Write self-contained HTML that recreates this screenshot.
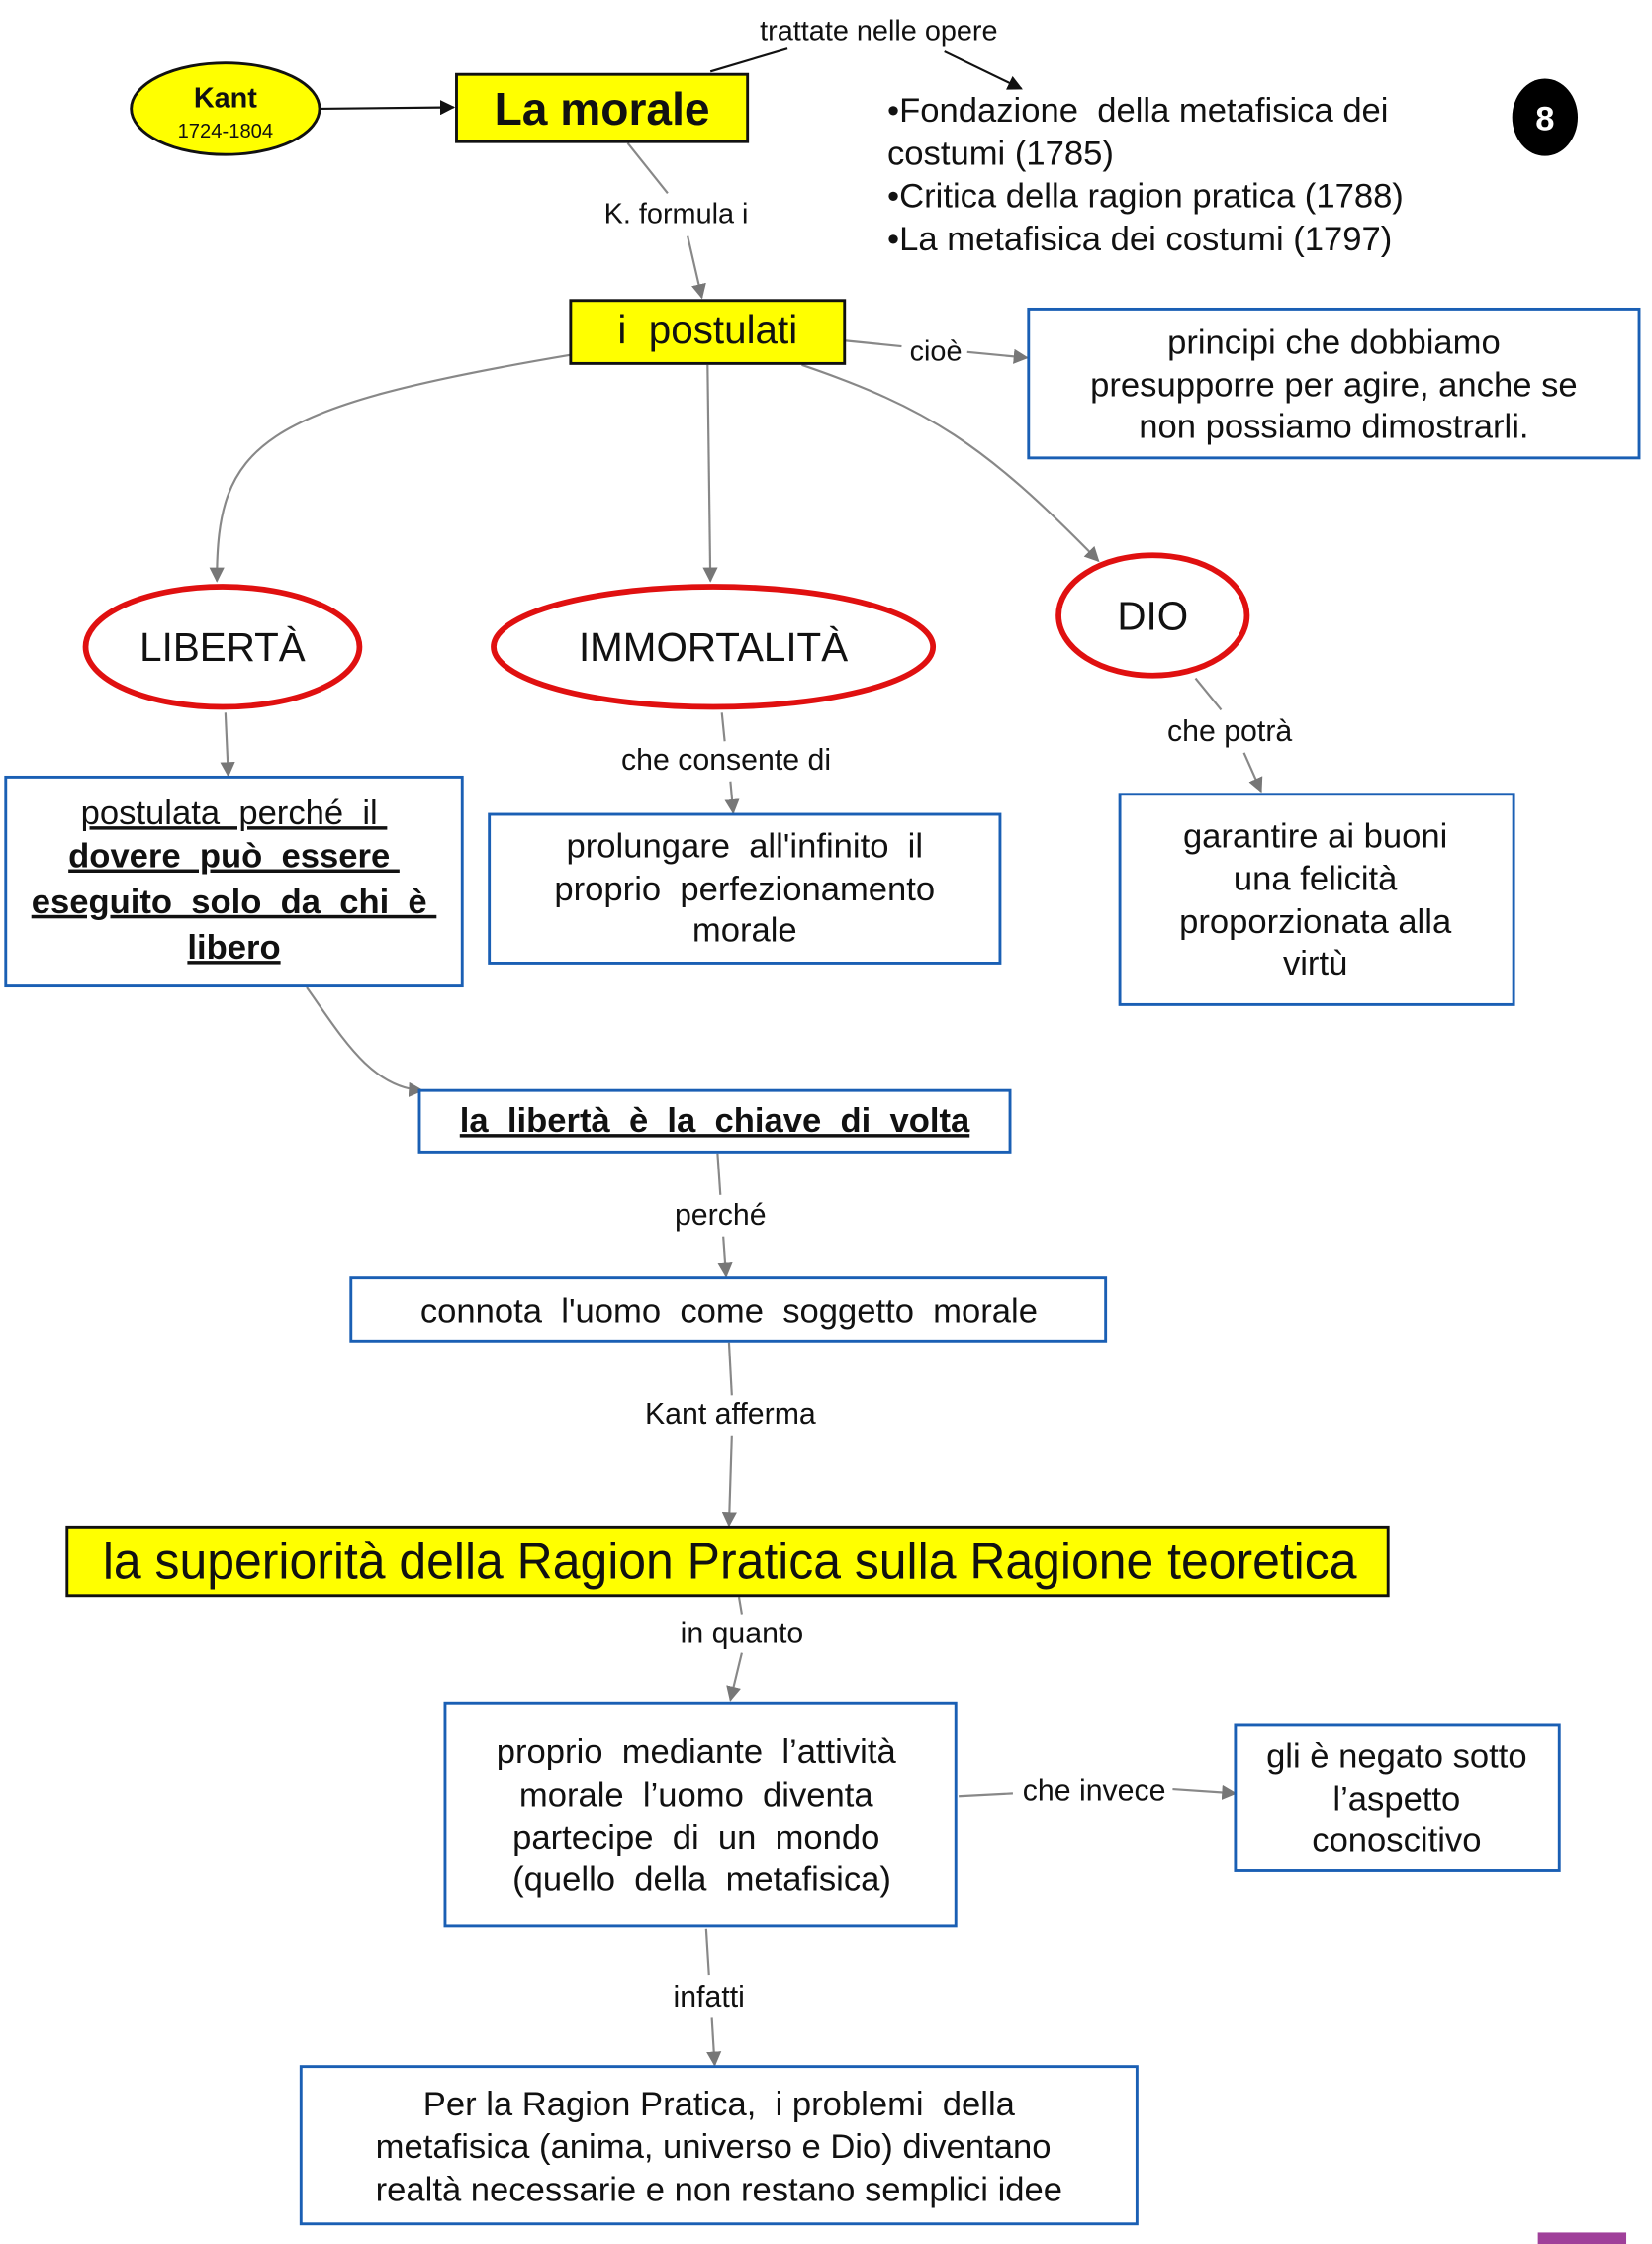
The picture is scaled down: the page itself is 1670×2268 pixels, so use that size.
<!DOCTYPE html>
<html><head><meta charset="utf-8"><style>
html,body{margin:0;padding:0;background:#fff;}
svg{display:block;}
text{font-family:"Liberation Sans",Arial,sans-serif;fill:#111;white-space:pre;}
</style></head><body>
<svg width="1670" height="2268" viewBox="0 0 1158 1568" preserveAspectRatio="none" xmlns="http://www.w3.org/2000/svg">
<defs>
<marker id="a" viewBox="0 0 10 10" refX="9" refY="5" markerWidth="7" markerHeight="7" orient="auto"><path d="M0,0 L10,5 L0,10 z" fill="#777"/></marker>
<marker id="b" viewBox="0 0 10 10" refX="9" refY="5" markerWidth="7" markerHeight="7" orient="auto"><path d="M0,0 L10,5 L0,10 z" fill="#111"/></marker>
</defs>
<g fill="none" stroke="#888" stroke-width="1.5">
<line x1="224" y1="76" x2="318" y2="75" stroke="#111" marker-end="url(#b)"/>
<line x1="498" y1="50" x2="552" y2="34" stroke="#111"/>
<line x1="662" y1="36" x2="716" y2="62" stroke="#111" marker-end="url(#b)"/>
<line x1="440" y1="100" x2="468" y2="135"/>
<line x1="482" y1="165" x2="492" y2="208" marker-end="url(#a)"/>
<line x1="592" y1="238" x2="632" y2="242"/>
<line x1="678" y1="246" x2="720" y2="250" marker-end="url(#a)"/>
<path d="M400,248 C180,285 152,310 152,406" marker-end="url(#a)"/>
<line x1="496" y1="255" x2="498" y2="406" marker-end="url(#a)"/>
<path d="M562,255 C650,285 690,310 770,392" marker-end="url(#a)"/>
<line x1="158" y1="498" x2="160" y2="542" marker-end="url(#a)"/>
<line x1="506" y1="498" x2="508" y2="518"/>
<line x1="512" y1="546" x2="514" y2="568" marker-end="url(#a)"/>
<line x1="838" y1="474" x2="856" y2="496"/>
<line x1="872" y1="526" x2="884" y2="553" marker-end="url(#a)"/>
<path d="M215,690 C240,725 260,760 296,762" marker-end="url(#a)"/>
<line x1="503" y1="806" x2="505" y2="835"/>
<line x1="507" y1="864" x2="509" y2="892" marker-end="url(#a)"/>
<line x1="511" y1="938" x2="513" y2="975"/>
<line x1="513" y1="1003" x2="511" y2="1066" marker-end="url(#a)"/>
<line x1="518" y1="1116" x2="520" y2="1128"/>
<line x1="520" y1="1155" x2="512" y2="1188" marker-end="url(#a)"/>
<line x1="672" y1="1255" x2="710" y2="1253"/>
<line x1="822" y1="1250" x2="866" y2="1253" marker-end="url(#a)"/>
<line x1="495" y1="1348" x2="497" y2="1380"/>
<line x1="499" y1="1410" x2="501" y2="1443" marker-end="url(#a)"/>
</g>
<ellipse cx="158" cy="76" rx="66" ry="32" fill="#ffff00" stroke="#111" stroke-width="2"/>
<text x="158" y="75" font-size="20" font-weight="bold" text-anchor="middle">Kant</text>
<text x="158" y="96" font-size="14" text-anchor="middle">1724-1804</text>
<rect x="320" y="52" width="204" height="47" fill="#ffff00" stroke="#111" stroke-width="2"/>
<text x="422" y="87" font-size="32" font-weight="bold" text-anchor="middle">La morale</text>
<text x="616" y="28" font-size="20" text-anchor="middle">trattate nelle opere</text>
<g font-size="24">
<text x="622" y="85">•Fondazione  della metafisica dei</text>
<text x="622" y="115">costumi (1785)</text>
<text x="622" y="145">•Critica della ragion pratica (1788)</text>
<text x="622" y="175">•La metafisica dei costumi (1797)</text>
</g>
<ellipse cx="1083" cy="82" rx="23" ry="27" fill="#000"/>
<text x="1083" y="91" font-size="24" font-weight="bold" text-anchor="middle" style="fill:#fff">8</text>
<text x="474" y="156" font-size="20" text-anchor="middle">K. formula i</text>
<rect x="400" y="210" width="192" height="44" fill="#ffff00" stroke="#111" stroke-width="2"/>
<text x="496" y="240" font-size="28" text-anchor="middle">i  postulati</text>
<text x="656" y="252" font-size="20" text-anchor="middle">cioè</text>
<g fill="#fff" stroke="#1a5fb4" stroke-width="2">
<rect x="721" y="216" width="428" height="104"/>
<rect x="4" y="543" width="320" height="146"/>
<rect x="343" y="569" width="358" height="104"/>
<rect x="785" y="555" width="276" height="147"/>
<rect x="294" y="762" width="414" height="43"/>
<rect x="246" y="893" width="529" height="44"/>
<rect x="312" y="1190" width="358" height="156"/>
<rect x="866" y="1205" width="227" height="102"/>
<rect x="211" y="1444" width="586" height="110"/>
</g>
<g font-size="24" text-anchor="middle">
<text x="935" y="247">principi che dobbiamo</text>
<text x="935" y="277">presupporre per agire, anche se</text>
<text x="935" y="306">non possiamo dimostrarli.</text>
</g>
<g fill="#fff" stroke="#e01010" stroke-width="4">
<ellipse cx="156" cy="452" rx="96" ry="42"/>
<ellipse cx="500" cy="452" rx="154" ry="42"/>
<ellipse cx="808" cy="430" rx="66" ry="42"/>
</g>
<g font-size="28" text-anchor="middle">
<text x="156" y="462">LIBERTÀ</text>
<text x="500" y="462">IMMORTALITÀ</text>
<text x="808" y="440">DIO</text>
</g>
<g font-size="21" text-anchor="middle">
<text x="509" y="538">che consente di</text>
<text x="862" y="518">che potrà</text>
<text x="505" y="856">perché</text>
<text x="512" y="995">Kant afferma</text>
<text x="520" y="1148">in quanto</text>
<text x="767" y="1258">che invece</text>
<text x="497" y="1402">infatti</text>
</g>
<g font-size="24" text-anchor="middle">
<text x="164" y="576" text-decoration="underline">postulata  perché  il </text>
<text x="164" y="606" font-weight="bold" text-decoration="underline">dovere  può  essere </text>
<text x="164" y="638" font-weight="bold" text-decoration="underline">eseguito  solo  da  chi  è </text>
<text x="164" y="670" font-weight="bold" text-decoration="underline">libero</text>
<text x="522" y="599">prolungare  all'infinito  il</text>
<text x="522" y="629">proprio  perfezionamento</text>
<text x="522" y="658">morale</text>
<text x="922" y="592">garantire ai buoni</text>
<text x="922" y="622">una felicità</text>
<text x="922" y="652">proporzionata alla</text>
<text x="922" y="681">virtù</text>
<text x="501" y="791" font-weight="bold" text-decoration="underline">la  libertà  è  la  chiave  di  volta</text>
<text x="511" y="924">connota  l'uomo  come  soggetto  morale</text>
<text x="488" y="1232">proprio  mediante  l’attività</text>
<text x="488" y="1262">morale  l’uomo  diventa</text>
<text x="488" y="1292">partecipe  di  un  mondo</text>
<text x="492" y="1321">(quello  della  metafisica)</text>
<text x="979" y="1235">gli è negato sotto</text>
<text x="979" y="1265">l’aspetto</text>
<text x="979" y="1294">conoscitivo</text>
<text x="504" y="1478">Per la Ragion Pratica,  i problemi  della</text>
<text x="500" y="1508">metafisica (anima, universo e Dio) diventano</text>
<text x="504" y="1538">realtà necessarie e non restano semplici idee</text>
</g>
<rect x="47" y="1067" width="926" height="48" fill="#ffff00" stroke="#111" stroke-width="2"/>
<text x="72" y="1103" font-size="36" textLength="879" lengthAdjust="spacingAndGlyphs">la superiorità della Ragion Pratica sulla Ragione teoretica</text>
<rect x="1078" y="1560" width="62" height="8" fill="#a0409a"/>
</svg>
</body></html>
